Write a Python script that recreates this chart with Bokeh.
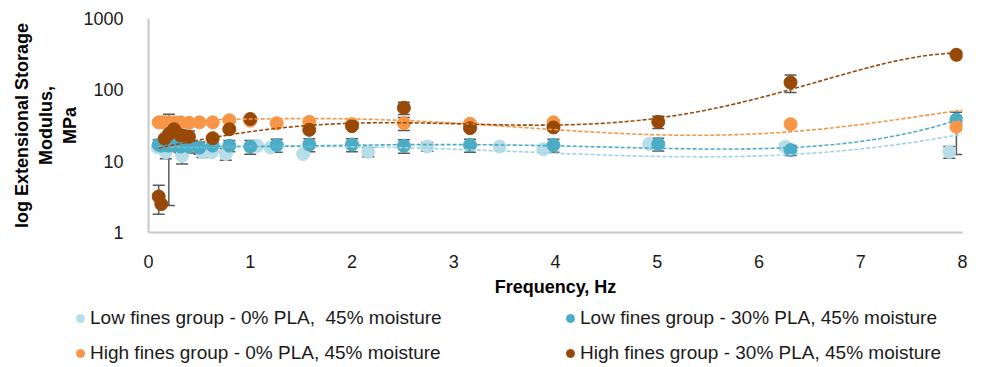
import numpy as np
from bokeh.plotting import figure
from bokeh.layouts import column, row
from bokeh.models import (ColumnDataSource, Range1d, FixedTicker, Legend, LegendItem,
                          Whisker, TeeHead)
from bokeh.embed import file_html
from bokeh.resources import INLINE

# ---------------- data ----------------
freq = [0.1, 0.126, 0.158, 0.2, 0.251, 0.316, 0.398, 0.501, 0.631, 0.794,
        1.0, 1.26, 1.58, 2.0, 2.51, 3.16, 3.98, 5.01, 6.31, 7.94]

# Low fines group - 0% PLA, 45% moisture
lf0_x = [0.09, 0.17, 0.33, 0.53, 0.62, 0.76, 1.07, 1.2, 1.52, 2.16, 2.74, 3.45, 3.88, 4.92, 6.26, 7.87]
lf0_y = [15.6, 13.3, 11.9, 13.3, 13.3, 12.6, 16.4, 15.6, 12.6, 13.5, 16.0, 16.0, 14.7, 17.4, 15.9, 13.5]
lf0_err = [0, 2.5, 2.8, 2.0, 0, 2.3, 0, 0, 0, 2.0, 2.2, 0, 0, 0, 1.5, 2.5]

# Low fines group - 30% PLA, 45% moisture
lf30_y = [17.0, 16.5, 17.0, 16.5, 17.0, 16.0, 16.0, 15.5, 16.5, 16.5,
          16.0, 16.8, 17.1, 17.1, 16.4, 16.8, 16.8, 17.4, 14.3, 38.4]
lf30_err = [3.0, 3.0, 3.0, 3.0, 3.0, 3.0, 3.0, 3.0, 3.0, 3.0,
            3.5, 3.5, 3.5, 3.5, 3.5, 3.5, 3.5, 3.5, 2.3, 0]

# High fines group - 0% PLA, 45% moisture
hf0_x = [0.1, 0.126, 0.158, 0.2, 0.251, 0.316, 0.398, 0.501, 0.631, 0.794,
         1.0, 1.26, 1.58, 2.0, 2.51, 3.16, 3.98, 6.31, 7.94]
hf0_y = [35.0, 35.0, 35.0, 35.0, 35.0, 35.0, 34.5, 35.0, 35.0, 37.5,
         37.0, 34.0, 35.5, 33.0, 34.0, 33.5, 35.0, 33.0, 30.4]
hf0_err = [0, 0, 0, 0, 0, 0, 0, 0, 0, 0,
           0, 0, 0, 0, 7.0, 0, 0, 0, 18.0]

# High fines group - 30% PLA, 45% moisture
hf30_x = [0.1, 0.126, 0.158, 0.2, 0.251, 0.316, 0.398, 0.631, 0.794,
          1.0, 1.58, 2.0, 2.51, 3.16, 3.98, 5.01, 6.31, 7.94]
hf30_y = [3.2, 2.5, 20.6, 24.0, 28.0, 23.0, 22.0, 21.0, 28.0,
          39.0, 27.5, 31.0, 56.0, 29.0, 29.7, 35.6, 127.0, 310.0]
hf30_err = [1.4, 0, 0, 21.6, 0, 4.5, 4.5, 0, 0,
            0, 0, 0, 11.0, 0, 0, 7.0, 35.0, 0]

# dashed polynomial trend lines
trend_x = [0.1, 0.5, 1, 1.6, 2, 2.5, 3, 4, 5, 6, 7, 8]
lf0_trend = [16.0, 16.0, 16.0, 16.0, 16.0, 15.5, 14.8, 12.8, 11.7, 11.9, 14.8, 24.0]
lf30_trend = [16.4, 16.4, 16.4, 16.4, 16.4, 16.6, 16.9, 17.2, 15.5, 13.8, 20.0, 39.5]
hf0_trend = [38.0, 38.5, 39.0, 39.5, 39.0, 37.0, 34.0, 28.3, 23.2, 24.0, 33.0, 52.0]
hf30_trend = [15.6, 19.4, 25.0, 32.0, 35.0, 36.5, 33.0, 29.0, 43.0, 78.0, 186.0, 330.0]

labels = ["Low fines group - 0% PLA,  45% moisture",
          "Low fines group - 30% PLA, 45% moisture",
          "High fines group - 0% PLA, 45% moisture",
          "High fines group - 30% PLA, 45% moisture"]
x_ticks = [0, 1, 2, 3, 4, 5, 6, 7, 8]
y_ticks = [1, 10, 100, 1000]

colors = ["#b7dee8", "#4bacc6", "#f79646", "#984807"]
trend_colors = ["#9fd3e1", "#4bacc6", "#f79646", "#984807"]

FONT = "Liberation Sans"

p = figure(x_range=Range1d(0, 8), y_range=Range1d(1, 1000), y_axis_type="log",
           frame_width=814, frame_height=214,
           min_border_left=148, min_border_right=20, min_border_top=18, min_border_bottom=68,
           output_backend="svg", toolbar_location=None)
p.xgrid.visible = False
p.ygrid.visible = False
p.outline_line_color = None
p.background_fill_color = "white"

series = [(lf0_x, lf0_y, lf0_err), (freq, lf30_y, lf30_err),
          (hf0_x, hf0_y, hf0_err), (hf30_x, hf30_y, hf30_err)]
trends = [lf0_trend, lf30_trend, hf0_trend, hf30_trend]

xs_dense = np.linspace(trend_x[0], trend_x[-1], 300)
for i, (sx, sy, se) in enumerate(series):
    p.scatter(sx, sy, size=13, color=colors[i], line_color=colors[i])
for i, tr in enumerate(trends):
    coef = np.polyfit(trend_x, np.log10(tr), 5)
    p.line(xs_dense, 10 ** np.polyval(coef, xs_dense), line_color=trend_colors[i],
           line_width=1.6, line_dash="4 2")

for sx, sy, se in series:
    bx = [x for x, e in zip(sx, se) if e > 0]
    hi = [y + e for y, e in zip(sy, se) if e > 0]
    lo = [y - e for y, e in zip(sy, se) if e > 0]
    src = ColumnDataSource(dict(x=bx, hi=hi, lo=lo))
    w = Whisker(source=src, base="x", upper="hi", lower="lo", dimension="height",
                line_color="#595959", line_width=1.5,
                upper_head=TeeHead(size=12, line_color="#595959", line_width=1.5),
                lower_head=TeeHead(size=12, line_color="#595959", line_width=1.5))
    p.add_layout(w)

for ax in (p.xaxis, p.yaxis):
    ax.major_tick_line_color = None
    ax.minor_tick_line_color = None
    ax.axis_line_color = "#c8c8c8"
    ax.axis_line_width = 2
    ax.major_label_text_font = FONT
    ax.major_label_text_font_size = "18px"
    ax.major_label_text_color = "#1a1a1a"
    ax.axis_label_text_font = FONT
    ax.axis_label_text_font_size = "18px"
    ax.axis_label_text_font_style = "bold"
    ax.axis_label_text_color = "#000000"

p.xaxis.ticker = FixedTicker(ticks=x_ticks)
p.xaxis.major_label_standoff = 16
p.xaxis.axis_label = "Frequency, Hz"
p.xaxis.axis_label_standoff = 6

p.yaxis.ticker = FixedTicker(ticks=y_ticks)
p.yaxis.major_label_overrides = {t: str(t) for t in y_ticks}
p.yaxis.major_label_standoff = 19
p.yaxis.axis_label = "log Extensional Storage\nModulus,\nMPa"
p.yaxis.axis_label_standoff = 0

# ---------------- legend strip below the chart ----------------
lg = figure(width=982, height=67, x_range=Range1d(100, 101), y_range=Range1d(100, 101),
            x_axis_location=None, y_axis_location=None,
            min_border=0, min_border_left=0, min_border_right=0,
            output_backend="svg", toolbar_location=None)
lg.grid.visible = False
lg.outline_line_color = None
# one point of each series, outside this strip's ranges, only to give the legend its glyphs
leg_r = [lg.scatter(x=sx[:1], y=sy[:1], size=13, color=c, line_color=c)
         for (sx, sy, se), c in zip(series, colors)]
order = [0, 2, 1, 3]   # fill the two columns row by row
legend = Legend(items=[LegendItem(label=labels[k], renderers=[leg_r[k]]) for k in order],
                ncols=2, location=(70, 3), glyph_width=20, glyph_height=20,
                label_standoff=-3, label_width=457, spacing=13, padding=0, margin=0,
                border_line_color=None, background_fill_alpha=0,
                label_text_font=FONT, label_text_font_size="19px",
                label_text_color="#1a1a1a")
lg.add_layout(legend)

open("out.html", "w").write(file_html(column(row(p), row(lg)), INLINE))
